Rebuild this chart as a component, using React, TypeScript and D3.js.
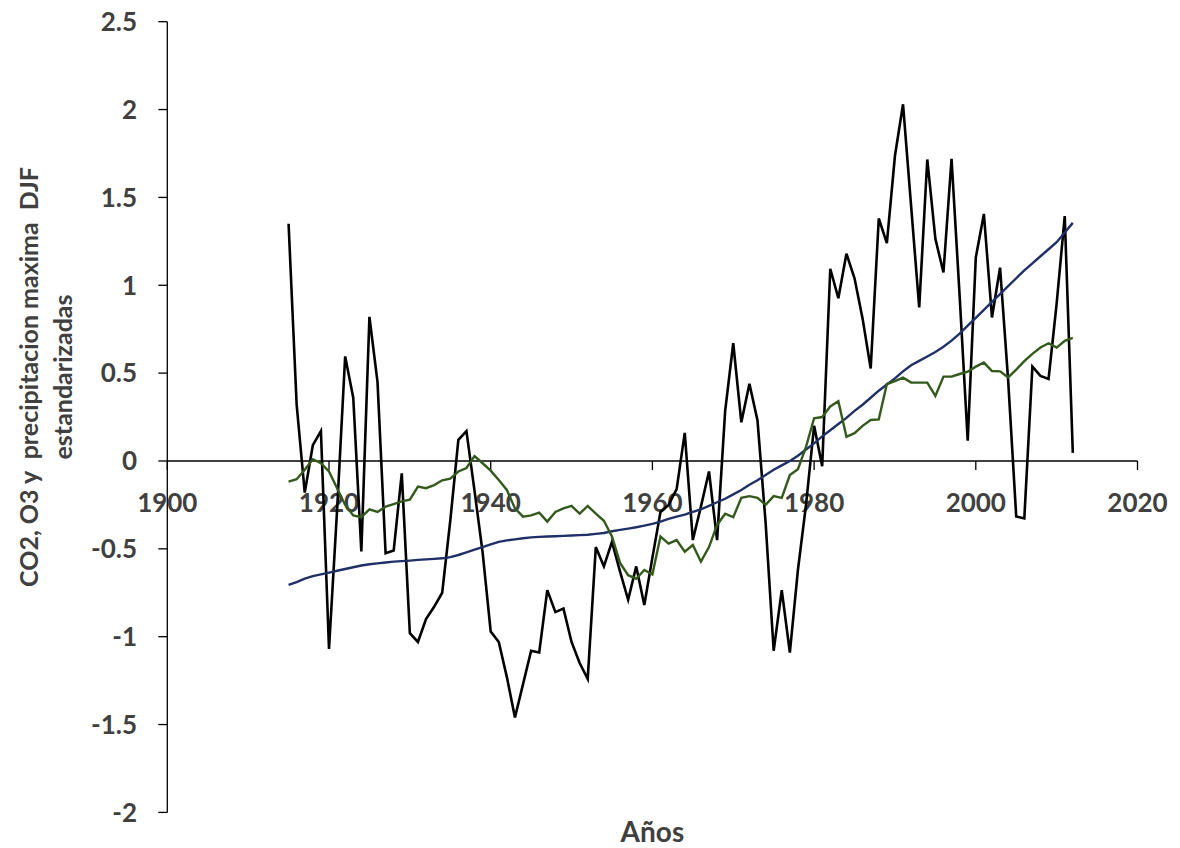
import React from "react";
import * as d3 from "d3";

// Standardized DJF maximum precipitation, its smoothed version and the CO2/O3 trend, 1915–2012
const FIRST_YEAR = 1915;

const precipitacion: number[] = [
  1.35, 0.32, -0.18, 0.09, 0.17, -1.07, -0.28, 0.595, 0.36, -0.515,
  0.82, 0.45, -0.525, -0.51, -0.07, -0.98, -1.03, -0.9, -0.83, -0.75,
  -0.34, 0.12, 0.17, -0.17, -0.52, -0.97, -1.03, -1.23, -1.46, -1.27,
  -1.08, -1.09, -0.735, -0.86, -0.84, -1.03, -1.15, -1.24, -0.49, -0.6,
  -0.46, -0.63, -0.79, -0.6, -0.82, -0.55, -0.29, -0.25, -0.16, 0.16,
  -0.45, -0.26, -0.06, -0.45, 0.285, 0.67, 0.22, 0.44, 0.23, -0.35,
  -1.08, -0.735, -1.09, -0.62, -0.25, 0.2, -0.03, 1.094, 0.926, 1.18,
  1.04, 0.81, 0.526, 1.38, 1.24, 1.737, 2.03, 1.45, 0.874, 1.716,
  1.264, 1.073, 1.72, 0.94, 0.116, 1.158, 1.406, 0.817, 1.1, 0.46,
  -0.316, -0.327, 0.537, 0.484, 0.467, 0.895, 1.394, 0.046,
];

const suavizada: number[] = [
  -0.118, -0.104, -0.05, 0.01, -0.013, -0.06, -0.155, -0.25, -0.31, -0.32,
  -0.275, -0.29, -0.26, -0.245, -0.23, -0.22, -0.146, -0.155, -0.137, -0.11,
  -0.1, -0.06, -0.04, 0.028, -0.013, -0.055, -0.108, -0.165, -0.27, -0.317,
  -0.31, -0.294, -0.345, -0.29, -0.27, -0.256, -0.3, -0.256, -0.3, -0.34,
  -0.43, -0.58, -0.65, -0.67, -0.62, -0.645, -0.43, -0.47, -0.45, -0.516,
  -0.478, -0.573, -0.49, -0.364, -0.3, -0.32, -0.21, -0.2, -0.21, -0.25,
  -0.2, -0.21, -0.08, -0.047, 0.08, 0.243, 0.25, 0.31, 0.34, 0.138,
  0.158, 0.2, 0.233, 0.237, 0.438, 0.455, 0.474, 0.446, 0.446, 0.446,
  0.37, 0.48, 0.48, 0.495, 0.508, 0.537, 0.56, 0.512, 0.51, 0.476,
  0.52, 0.568, 0.61, 0.646, 0.67, 0.645, 0.684, 0.7,
];

const co2o3: number[] = [
  -0.705, -0.69, -0.67, -0.655, -0.645, -0.635, -0.625, -0.615, -0.605, -0.595,
  -0.588, -0.583, -0.578, -0.573, -0.57, -0.567, -0.563, -0.56, -0.557, -0.554,
  -0.547, -0.535, -0.52, -0.505, -0.49, -0.475, -0.46, -0.452, -0.446, -0.44,
  -0.435, -0.432, -0.43, -0.428, -0.426, -0.424, -0.422, -0.42, -0.415, -0.41,
  -0.4, -0.392, -0.385, -0.377, -0.368, -0.358, -0.345, -0.33, -0.317, -0.305,
  -0.29, -0.275, -0.255, -0.235, -0.215, -0.19, -0.165, -0.135, -0.11, -0.08,
  -0.05, -0.025, 0.0, 0.03, 0.065, 0.1, 0.14, 0.175, 0.21, 0.245,
  0.285, 0.32, 0.36, 0.4, 0.435, 0.47, 0.51, 0.545, 0.57, 0.595,
  0.62, 0.65, 0.685, 0.725, 0.77, 0.815, 0.86, 0.905, 0.95, 0.995,
  1.04, 1.085, 1.125, 1.165, 1.205, 1.245, 1.3, 1.355,
];

const xTicks: number[] = [1900, 1920, 1940, 1960, 1980, 2000, 2020];
const yTicks: number[] = [-2, -1.5, -1, -0.5, 0, 0.5, 1, 1.5, 2, 2.5];

const yTitleLines: string[] = ["CO2, O3 y  precipitacion maxima  DJF", "estandarizadas"];
const xTitle = "Años";

const W = 1180;
const H = 848;
const FONT = "Lato, 'Open Sans', sans-serif";
const TEXT = "#404040";

export default function App() {
  const x = d3.scaleLinear().domain([1900, 2020]).range([167.3, 1137.5]);
  const y = d3.scaleLinear().domain([-2, 2.5]).range([812.4, 21.7]);

  const years = precipitacion.map((_, i) => FIRST_YEAR + i);
  const line = d3
    .line<number>()
    .x((_, i) => x(years[i]))
    .y((d) => y(d));

  const x0 = x(1900);
  const yZero = y(0);

  return (
    <svg
      width={W}
      height={H}
      viewBox={`0 0 ${W} ${H}`}
      style={{ position: "absolute", left: 0, top: 0, background: "#fff" }}
    >
      <rect width={W} height={H} fill="#fff" />

      {/* y axis */}
      <line x1={x0} x2={x0} y1={y(2.5)} y2={y(-2)} stroke="#000" strokeWidth={1.3} />
      {yTicks.map((t) => (
        <g key={`y${t}`}>
          <line x1={x0 - 9} x2={x0} y1={y(t)} y2={y(t)} stroke="#000" strokeWidth={1.3} />
          <text
            x={137}
            y={y(t)}
            dy="0.36em"
            textAnchor="end"
            fontFamily={FONT}
            fontWeight={700}
            fontSize={26}
            fill={TEXT}
          >
            {String(t)}
          </text>
        </g>
      ))}

      {/* x axis crossing at zero */}
      <line x1={x0} x2={x(2020)} y1={yZero} y2={yZero} stroke="#000" strokeWidth={1.3} />
      {xTicks.map((t) => (
        <g key={`x${t}`}>
          <line x1={x(t)} x2={x(t)} y1={yZero} y2={yZero + 9} stroke="#000" strokeWidth={1.3} />
          <text
            x={x(t)}
            y={512}
            textAnchor="middle"
            fontFamily={FONT}
            fontWeight={700}
            fontSize={26}
            fill={TEXT}
          >
            {t}
          </text>
        </g>
      ))}

      {/* axis titles */}
      <text
        x={(x0 + x(2020)) / 2}
        y={842}
        textAnchor="middle"
        fontFamily={FONT}
        fontWeight={700}
        fontSize={28}
        fill={TEXT}
      >
        {xTitle}
      </text>
      {yTitleLines.map((s, i) => (
        <text
          key={s}
          transform={`translate(${38 + i * 34},377) rotate(-90)`}
          textAnchor="middle"
          fontFamily={FONT}
          fontWeight={700}
          fontSize={25}
          fill={TEXT}
          style={{ whiteSpace: "pre" }}
        >
          {s}
        </text>
      ))}

      {/* series */}
      <path d={line(precipitacion) ?? ""} fill="none" stroke="#000" strokeWidth={2.6} />
      <path d={line(co2o3) ?? ""} fill="none" stroke="#1f3066" strokeWidth={2.4} />
      <path d={line(suavizada) ?? ""} fill="none" stroke="#335a1c" strokeWidth={2.4} />
    </svg>
  );
}
